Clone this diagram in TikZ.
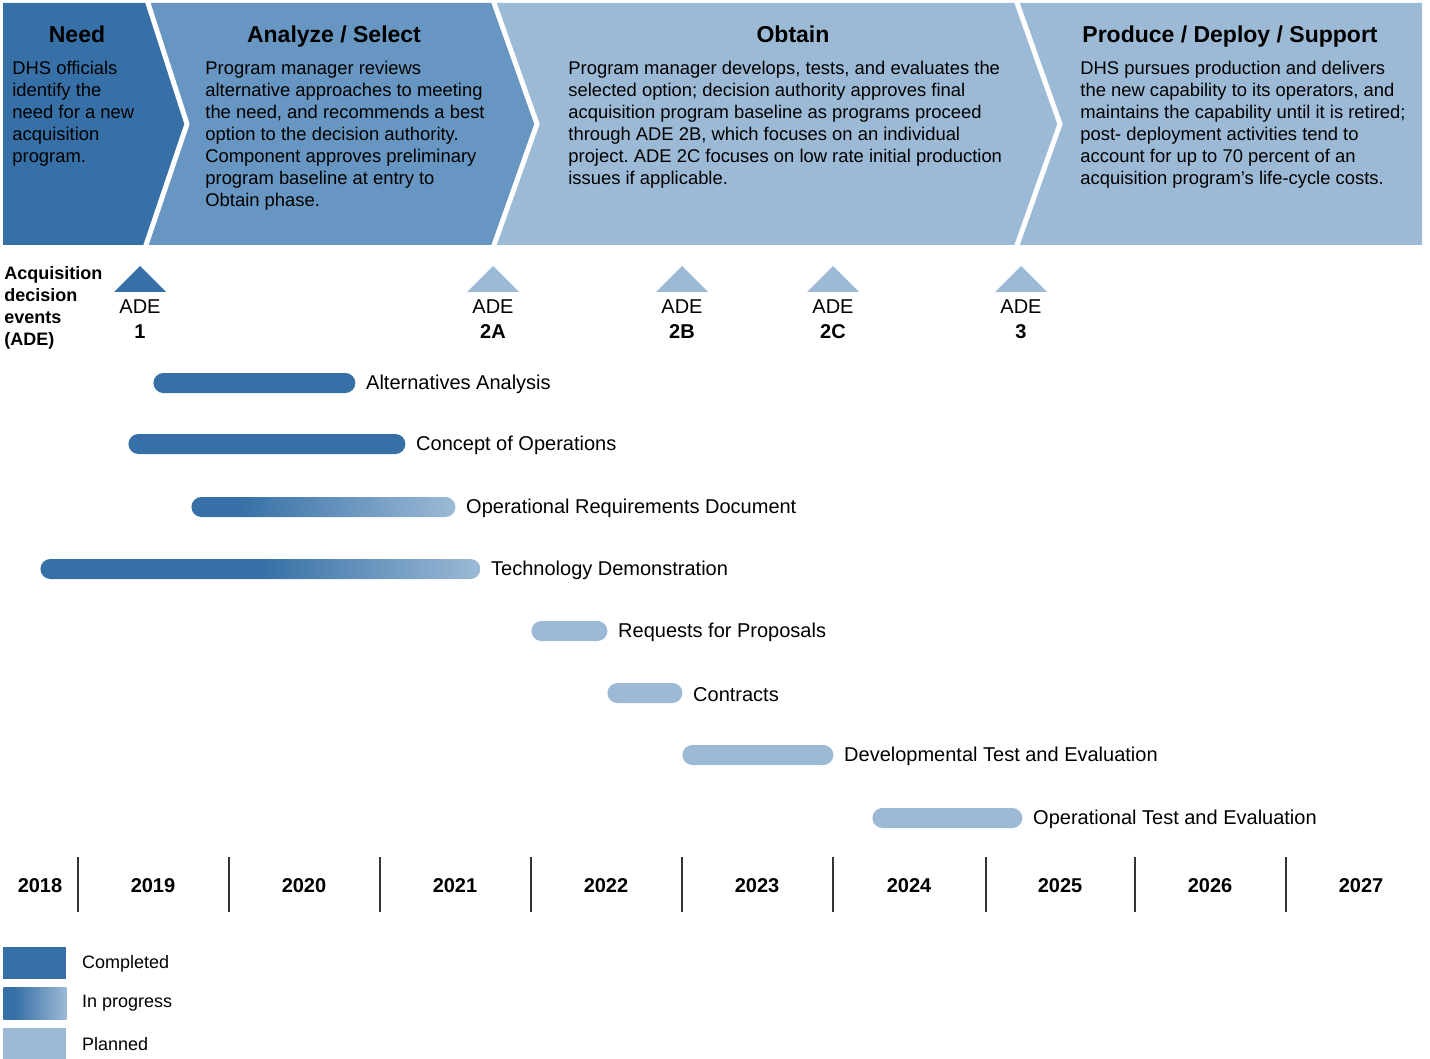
\documentclass[tikz,border=0pt]{standalone}
\usepackage{fontspec}
\setmainfont{Liberation Sans}
\usetikzlibrary{positioning}

\definecolor{cDone}{RGB}{54,112,166}
\definecolor{cMid}{RGB}{102,150,193}
\definecolor{cPlan}{RGB}{156,186,214}
% the path covers 25bp..75bp of a shading
\pgfdeclarehorizontalshading{progressA}{100bp}{color(0bp)=(cDone); color(34bp)=(cDone); color(75bp)=(cPlan); color(100bp)=(cPlan)}
\pgfdeclarehorizontalshading{progressB}{100bp}{color(0bp)=(cDone); color(50bp)=(cDone); color(75bp)=(cPlan); color(100bp)=(cPlan)}

\tikzset{
  phasehead/.style={font=\fontsize{11.5}{13}\selectfont\bfseries, inner sep=0pt, anchor=base},
  phasetext/.style={font=\fontsize{9.2}{11}\selectfont, align=left, anchor=north west, inner sep=0pt},
  bar/.style={rounded corners=5pt, minimum height=10pt, anchor=west, inner sep=0pt},
  donebar/.style={bar, fill=cDone},
  planbar/.style={bar, fill=cPlan},
  barlabel/.style={font=\fontsize{10}{12}\selectfont, anchor=west, inner sep=0pt, yshift=-0.8pt},
  adelabel/.style={font=\fontsize{10}{12.5}\selectfont, align=center, inner sep=0pt},
  yearlabel/.style={font=\fontsize{10}{12}\selectfont\bfseries, inner sep=0pt},
  legbox/.style={minimum width=31.5pt, minimum height=16pt, anchor=north west, inner sep=0pt},
  leglabel/.style={font=\fontsize{9}{10}\selectfont, anchor=west, inner sep=0pt}
}

\begin{document}
\frenchspacing
\begin{tikzpicture}[x=0.5pt, y=-0.5pt]
    \useasboundingbox (0,0) rectangle (1430,1059);
    % phase chevrons
    \fill[cDone] (3,3) -- (147,3) -- (187,124) -- (145,245) -- (3,245) -- cycle;
    \fill[cMid] (147,3) -- (493,3) -- (537,124) -- (493,245) -- (145,245) -- (187,124) -- cycle;
    \fill[cPlan] (493,3) -- (1016,3) -- (1060,124) -- (1016,245) -- (493,245) -- (537,124) -- cycle;
    \fill[cPlan] (1016,3) -- (1422,3) -- (1422,245) -- (1016,245) -- (1060,124) -- cycle;
    \draw[white, line width=2.5pt] (147,0) -- (187,124) -- (145,248);
    \draw[white, line width=2.5pt] (493,0) -- (537,124) -- (493,248);
    \draw[white, line width=2.5pt] (1016,0) -- (1060,124) -- (1016,248);

    \node[phasehead] (needhead) at (77,43) {Need};
    \node[phasehead] (analyzehead) at (334,43) {Analyze / Select};
    \node[phasehead] (obtainhead) at (793,43) {Obtain};
    \node[phasehead] (producehead) at (1230,43) {Produce / Deploy / Support};
    \node[phasetext] (needtext) at (12,61) {DHS officials\\identify the\\need for a new\\acquisition\\program.};
    \node[phasetext] (analyzetext) at (205,61) {Program manager reviews\\alternative approaches to meeting\\the need, and recommends a best\\option to the decision authority.\\Component approves preliminary\\program baseline at entry to\\Obtain phase.};
    \node[phasetext] (obtaintext) at (568,61) {Program manager develops, tests, and evaluates the\\selected option; decision authority approves final\\acquisition program baseline as programs proceed\\through ADE 2B, which focuses on an individual\\project. ADE 2C focuses on low rate initial production\\issues if applicable.};
    \node[phasetext] (producetext) at (1080,61) {DHS pursues production and delivers\\the new capability to its operators, and\\maintains the capability until it is retired;\\post- deployment activities tend to\\account for up to 70 percent of an\\acquisition program’s life-cycle costs.};

    % acquisition decision events
    \node[phasetext, font=\fontsize{9}{11}\selectfont\bfseries] (adetitle) at (4,266) {Acquisition\\decision\\events\\(ADE)};
    \foreach \x/\n/\c in {140/1/cDone, 493/2A/cPlan, 682/2B/cPlan, 833/2C/cPlan, 1021/3/cPlan} {
        \fill[\c] (\x,266) -- ++(26,26) -- ++(-52,0) -- cycle;
        \node[adelabel] (ade\n) at (\x,319) {ADE\\\textbf{\n}};
    }

    % activity bars
    \node[donebar, minimum width=101pt] (altbar) at (153,383) {};
    \node[barlabel, right=5pt of altbar] (altlabel) {Alternatives Analysis};
    \node[donebar, minimum width=138.5pt] (conopsbar) at (128,444) {};
    \node[barlabel, right=5pt of conopsbar] (conopslabel) {Concept of Operations};
    \node[bar, shade, shading=progressA, minimum width=132pt] (ordbar) at (191,507) {};
    \node[barlabel, right=5pt of ordbar] (ordlabel) {Operational Requirements Document};
    \node[bar, shade, shading=progressB, minimum width=220pt] (techbar) at (40,569) {};
    \node[barlabel, right=5pt of techbar] (techlabel) {Technology Demonstration};
    \node[planbar, minimum width=38pt] (rfpbar) at (531,631) {};
    \node[barlabel, right=5pt of rfpbar] (rfplabel) {Requests for Proposals};
    \node[planbar, minimum width=37.5pt] (contractbar) at (607,693) {};
    \node[barlabel, right=5pt of contractbar] (contractlabel) {Contracts};
    \node[planbar, minimum width=75.5pt] (dtebar) at (682,755) {};
    \node[barlabel, right=5pt of dtebar] (dtelabel) {Developmental Test and Evaluation};
    \node[planbar, minimum width=75pt] (otebar) at (872,818) {};
    \node[barlabel, right=5pt of otebar] (otelabel) {Operational Test and Evaluation};

    % years
    \foreach \x in {78,229,380,531,682,833,986,1135,1286}
        \draw[black!80, line width=0.8pt] (\x,857) -- (\x,912);
    \foreach \yr/\x in {2018/40, 2019/153, 2020/304, 2021/455, 2022/606, 2023/757, 2024/909, 2025/1060, 2026/1210, 2027/1361}
        \node[yearlabel] (yr\yr) at (\x,886) {\yr};

    % legend
    \node[legbox, fill=cDone] (legdone) at (3,947) {};
    \node[leglabel, right=7.5pt of legdone] (legdonelabel) {Completed};
    \node[legbox, shade, shading=progressA] (legprog) at (3,987) {};
    \node[leglabel, right=7.5pt of legprog] (legproglabel) {In progress};
    \node[legbox, fill=cPlan] (legplan) at (3,1028) {};
    \node[leglabel, right=7.5pt of legplan] (legplanlabel) {Planned};
\end{tikzpicture}
\end{document}
